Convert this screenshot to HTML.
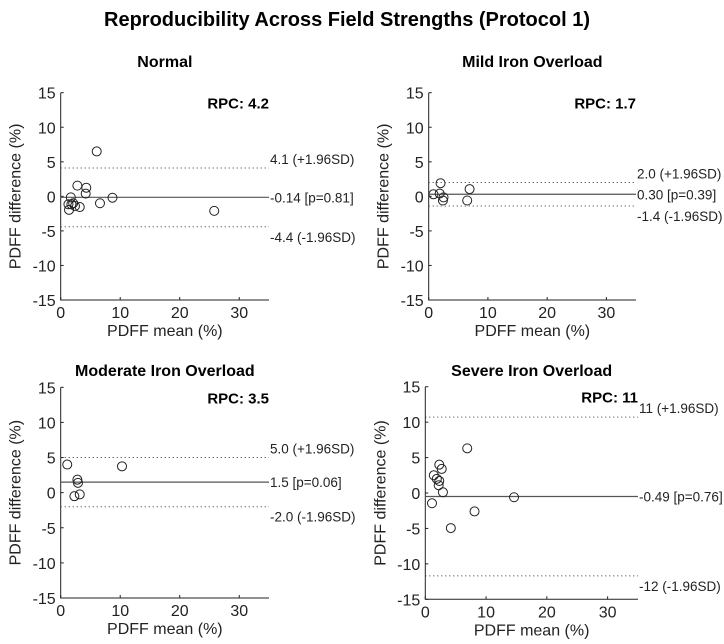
<!DOCTYPE html>
<html><head><meta charset="utf-8"><style>
html,body{margin:0;padding:0;background:#fff;}
svg{display:block;font-family:"Liberation Sans",Arial,sans-serif;}
</style></head><body>
<svg id="fig" width="724" height="644" viewBox="0 0 724 644">
<text x="347" y="26" text-anchor="middle" font-size="20" font-weight="bold">Reproducibility Across Field Strengths (Protocol 1)</text>
</svg>
<script>
const panelTitles = ["Normal","Mild Iron Overload","Moderate Iron Overload","Severe Iron Overload"];
const rpcLabels = ["RPC: 4.2","RPC: 1.7","RPC: 3.5","RPC: 11"];
const meanVals = [-0.14, 0.30, 1.5, -0.49];
const meanLabels = ["-0.14 [p=0.81]","0.30 [p=0.39]","1.5 [p=0.06]","-0.49 [p=0.76]"];
const upperVals = [4.1, 2.0, 5.0, 10.7];
const upperLabels = ["4.1 (+1.96SD)","2.0 (+1.96SD)","5.0 (+1.96SD)","11 (+1.96SD)"];
const lowerVals = [-4.4, -1.4, -2.0, -11.7];
const lowerLabels = ["-4.4 (-1.96SD)","-1.4 (-1.96SD)","-2.0 (-1.96SD)","-12 (-1.96SD)"];
const xN = [6.05,2.8,4.3,4.2,1.7,8.7,6.6,1.3,1.8,2.4,3.2,1.4,25.8,2.1];
const yN = [6.5,1.55,1.25,0.4,-0.15,-0.2,-1.0,-1.15,-1.15,-1.4,-1.55,-1.95,-2.1,-1.0];
const xMild = [0.8,2.0,1.85,2.5,2.4,6.9,6.5];
const yMild = [0.3,1.9,0.4,-0.15,-0.6,1.05,-0.6];
const xMod = [1.1,10.3,2.8,2.9,2.3,3.2];
const yMod = [4.0,3.75,1.85,1.4,-0.5,-0.25];
const xSev = [6.9,2.3,2.7,1.4,1.9,2.3,2.2,2.9,1.1,14.6,8.1,4.2];
const ySev = [6.3,4.0,3.4,2.5,2.0,1.7,1.1,0.1,-1.45,-0.6,-2.6,-4.95];
const xTicks = [0,10,20,30];
const yTicks = [15,10,5,0,-5,-10,-15];

const xsAll=[xN,xMild,xMod,xSev], ysAll=[yN,yMild,yMod,ySev];
const layout=[
 {x0:60.7,x1:269,top:92.7,bot:300,ty:67},
 {x0:428.7,x1:636,top:92.7,bot:300,ty:67},
 {x0:60.7,x1:269,top:387.3,bot:598,ty:376},
 {x0:425.3,x1:638,top:386.7,bot:599.3,ty:376}
];
const NS="http://www.w3.org/2000/svg";
const svg=document.getElementById('fig');
function mk(tag,attrs,parent,txt){const e=document.createElementNS(NS,tag);for(const k in attrs)e.setAttribute(k,attrs[k]);if(txt!==undefined)e.textContent=txt;parent.appendChild(e);return e;}
layout.forEach((L,i)=>{
 const g=mk('g',{},svg);
 
 
 const sx=v=>L.x0+(v-0)/35*(L.x1-L.x0);
 const sy=v=>L.bot-(v+15)/30*(L.bot-L.top);
 const cx=(L.x0+L.x1)/2;
 const t=mk('text',{x:cx,y:L.ty,'text-anchor':'middle','font-size':16,'font-weight':'bold'},g,panelTitles[i]);
 
 
 const r=mk('text',{x:L.x1,y:L.top+16,'text-anchor':'end','font-size':15,'font-weight':'bold'},g,rpcLabels[i]);
 
 
 const ax=mk('path',{d:`M${L.x0},${L.top}V${L.bot}H${L.x1}`,stroke:'#222',fill:'none','stroke-width':1},g);
 
 
 xTicks.forEach(v=>{
  mk('line',{x1:sx(v),x2:sx(v),y1:L.bot,y2:L.bot-3,stroke:'#222'},g);
  const tl=mk('text',{x:sx(v),y:L.bot+18,'text-anchor':'middle','font-size':16,fill:'#222'},g,String(v));
  
  
 });
 yTicks.forEach(v=>{
  mk('line',{x1:L.x0,x2:L.x0+3,y1:sy(v),y2:sy(v),stroke:'#222'},g);
  const tl=mk('text',{x:L.x0-5,y:sy(v)+6,'text-anchor':'end','font-size':16,fill:'#222'},g,String(v));
  
  
 });
 const xt=mk('text',{x:cx,y:L.bot+36,'text-anchor':'middle','font-size':16,fill:'#222'},g,'PDFF mean (%)');
 
 
 const yy=(L.top+L.bot)/2;
 const yt=mk('text',{x:L.x0-40,y:yy,'text-anchor':'middle','font-size':16,fill:'#222',transform:`rotate(-90 ${L.x0-40} ${yy})`},g,'PDFF difference (%)');
 
 
 const ml=mk('line',{x1:L.x0,x2:L.x1,y1:sy(meanVals[i]),y2:sy(meanVals[i]),stroke:'#555','stroke-width':1.2},g);
 
 
 const ul=mk('line',{x1:L.x0,x2:L.x1,y1:sy(upperVals[i]),y2:sy(upperVals[i]),stroke:'#333','stroke-width':1,'stroke-dasharray':'1 3'},g);
 
 
 const ll=mk('line',{x1:L.x0,x2:L.x1,y1:sy(lowerVals[i]),y2:sy(lowerVals[i]),stroke:'#333','stroke-width':1,'stroke-dasharray':'1 3'},g);
 
 
 const m1=mk('text',{x:L.x1+1,y:sy(meanVals[i])+5,'font-size':13.5,fill:'#222'},g,meanLabels[i]);
 
 
 const u1=mk('text',{x:L.x1+1,y:sy(upperVals[i])-4,'font-size':13.5,fill:'#222'},g,upperLabels[i]);
 
 
 const l1=mk('text',{x:L.x1+1,y:sy(lowerVals[i])+15,'font-size':13.5,fill:'#222'},g,lowerLabels[i]);
 
 
 xsAll[i].forEach((xv,j)=>{
  const c=mk('circle',{cx:sx(xv),cy:sy(ysAll[i][j]),r:4.5,fill:'none',stroke:'#222','stroke-width':1},g);
  
  
 });
});
</script>
</body></html>
